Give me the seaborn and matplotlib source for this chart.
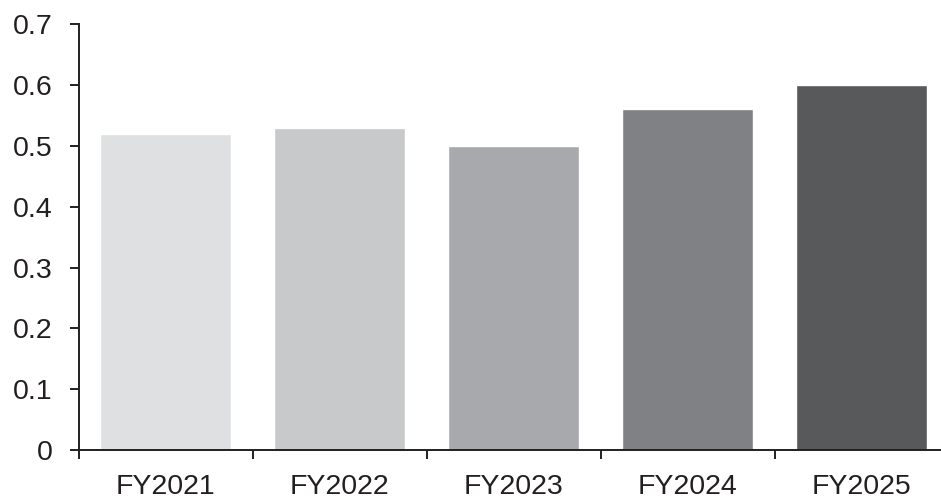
import matplotlib
matplotlib.use("Agg")
import matplotlib.pyplot as plt
import seaborn as sns
import pandas as pd
import numpy as np

# Fiscal-year values
years = ["FY2021", "FY2022", "FY2023", "FY2024", "FY2025"]
values = [0.52, 0.53, 0.50, 0.56, 0.60]
colors = ["#dfe0e2", "#c8c9cb", "#a8a9ac", "#808184", "#58595b"]
y_ticks = [0, 0.1, 0.2, 0.3, 0.4, 0.5, 0.6, 0.7]
y_labels = ["0", "0.1", "0.2", "0.3", "0.4", "0.5", "0.6", "0.7"]

sns.set_theme(style="white")
plt.rcParams["font.family"] = ["Liberation Sans", "DejaVu Sans"]
ink = "#231f20"

df = pd.DataFrame({"year": years, "value": values})

W, H = 941, 503
fig = plt.figure(figsize=(W / 100, H / 100), dpi=100)
left, right, top, bottom = 78.5, 948.5, 24.3, 450
ax = fig.add_axes([left / W, (H - bottom) / H, (right - left) / W, (bottom - top) / H])

sns.barplot(data=df, x="year", y="value", hue="year", order=years,
            palette=dict(zip(years, colors)), width=0.75, saturation=1,
            legend=False, ax=ax)

ax.set_xlim(-0.5, len(years) - 0.5)
ax.set_ylim(0, 0.7)
ax.set_yticks(y_ticks)
ax.set_yticklabels(y_labels)
ax.set_xlabel("")
ax.set_ylabel("")

# category labels at centres, tick marks at category boundaries
ax.set_xticks(np.arange(len(years)))
ax.set_xticklabels(years)
ax.set_xticks(np.arange(len(years) + 1) - 0.5, minor=True)
ax.tick_params(axis="x", which="major", length=0, pad=17, labelsize=20.5, colors=ink)
ax.tick_params(axis="x", which="minor", length=6.5, width=1.4, color=ink, direction="out", bottom=True)
ax.tick_params(axis="y", length=6.5, width=1.4, color=ink, pad=12, labelsize=20.5, labelcolor=ink, left=True)

for side in ["top", "right"]:
    ax.spines[side].set_visible(False)
for side in ["left", "bottom"]:
    ax.spines[side].set_color(ink)
    ax.spines[side].set_linewidth(1.4)

fig.savefig("out.png", dpi=100)
